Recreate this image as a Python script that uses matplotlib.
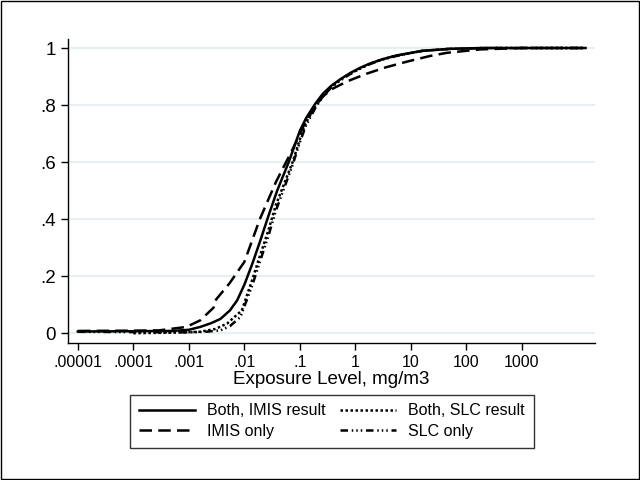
import matplotlib
matplotlib.use("Agg")
import matplotlib.pyplot as plt
import numpy as np
from matplotlib.patches import Rectangle

plt.rcParams['font.family'] = ['Liberation Sans', 'DejaVu Sans']

# exposure levels (mg/m3), cumulative fraction for each group
x_both_imis = [1e-5, 1e-4, 5e-4, 1e-3, 1.6e-3, 2.5e-3, 3.7e-3, 5.5e-3, 7.4e-3, 1e-2, 1.4e-2, 1.9e-2, 2.7e-2, 3.9e-2,
               6.3e-2, 0.1, 0.13, 0.19, 0.26, 0.37, 0.55, 0.8, 1.2, 1.8, 3, 5.5, 16, 50, 200, 1.4e4]
y_both_imis = [0.006, 0.007, 0.008, 0.012, 0.022, 0.035, 0.05, 0.08, 0.115, 0.17, 0.245, 0.32, 0.41, 0.5,
               0.6, 0.71, 0.755, 0.805, 0.84, 0.868, 0.892, 0.912, 0.93, 0.945, 0.96, 0.974, 0.99, 0.997, 1.0, 1.0]

x_imis_only = [1e-5, 1e-4, 2.9e-4, 9e-4, 1.6e-3, 2.8e-3, 3e-3, 5.4e-3, 1e-2, 1.9e-2, 3.7e-2, 7.4e-2, 0.1, 0.13,
               0.19, 0.26, 0.37, 0.55, 0.8, 1.6, 3.5, 8.4, 22, 44, 174, 1e3, 1.4e4]
y_imis_only = [0.008, 0.009, 0.01, 0.022, 0.045, 0.09, 0.115, 0.175, 0.25, 0.40, 0.53, 0.645, 0.70, 0.745,
               0.795, 0.83, 0.855, 0.872, 0.887, 0.91, 0.932, 0.952, 0.972, 0.983, 0.995, 1.0, 1.0]

x_both_slc = [1e-4, 5e-4, 1.6e-3, 3e-3, 4.9e-3, 9e-3, 1.4e-2, 1.9e-2, 2.7e-2, 3.7e-2, 7.4e-2, 0.1, 0.13, 0.19,
              0.26, 0.37, 0.55, 0.8, 1.2, 1.8, 3, 5.5, 16, 50, 200, 1.4e4]
y_both_slc = [0.0, 0.002, 0.005, 0.015, 0.034, 0.08, 0.19, 0.27, 0.36, 0.45, 0.6, 0.68, 0.74, 0.795,
              0.835, 0.865, 0.89, 0.91, 0.928, 0.944, 0.96, 0.973, 0.99, 0.997, 1.0, 1.0]

x_slc_only = [1e-5, 1e-4, 1e-3, 2e-3, 3.7e-3, 5.5e-3, 8.5e-3, 1.4e-2, 1.9e-2, 2.7e-2, 3.7e-2, 7.4e-2, 0.1, 0.13,
              0.19, 0.26, 0.37, 0.55, 0.8, 1.2, 1.8, 3, 5.5, 16, 50, 200, 1.4e4]
y_slc_only = [0.005, 0.004, 0.003, 0.005, 0.01, 0.025, 0.057, 0.17, 0.25, 0.34, 0.43, 0.59, 0.67, 0.73,
              0.79, 0.83, 0.862, 0.888, 0.908, 0.927, 0.943, 0.959, 0.972, 0.99, 0.997, 1.0, 1.0]

xtick_vals = [1e-5, 1e-4, 1e-3, 1e-2, 1e-1, 1, 10, 100, 1000]
xtick_labels = ['.00001', '.0001', '.001', '.01', '.1', '1', '10', '100', '1000']
ytick_vals = [0, 0.2, 0.4, 0.6, 0.8, 1]
ytick_labels = ['0', '.2', '.4', '.6', '.8', '1']

fig = plt.figure(figsize=(6.4, 4.8), dpi=100)
ax = fig.add_axes([0.106, 0.285, 0.824, 0.634])

lw = 1.8
ax.plot(x_both_imis, y_both_imis, color='black', lw=lw, ls='-', label='Both, IMIS result')
ax.plot(x_imis_only, y_imis_only, color='black', lw=lw, ls=(0, (5, 2.5)), label='IMIS only')
ax.plot(x_both_slc, y_both_slc, color='black', lw=lw, ls=(0, (1, 1)), label='Both, SLC result')
ax.plot(x_slc_only, y_slc_only, color='black', lw=lw, ls=(0, (3, 1.5, 0.6, 1.2, 0.6, 1.2, 0.6, 1.5)), label='SLC only')

ax.set_xscale('log')
ax.set_xlim(10 ** -5.18, 10 ** 4.32)
ax.set_ylim(-0.035, 1.032)
ax.set_xticks(xtick_vals)
ax.set_xticklabels(xtick_labels)
ax.minorticks_off()
ax.set_yticks(ytick_vals)
ax.set_yticklabels(ytick_labels)
ax.tick_params(axis='y', labelsize=13.5, length=5, width=1, direction='out')
ax.tick_params(axis='x', labelsize=11.5, length=5, width=1, direction='out')
ax.yaxis.grid(True, color='#e6eff1', lw=1.5)
ax.set_axisbelow(True)
for s in ['top', 'right']:
    ax.spines[s].set_visible(False)
for s in ['left', 'bottom']:
    ax.spines[s].set_linewidth(1)
ax.set_xlabel('Exposure Level, mg/m3', fontsize=13.5, labelpad=1)

leg = fig.legend(loc='lower left', bbox_to_anchor=(0.203, 0.067, 0.631, 0.106), mode='expand',
                 ncol=2, fontsize=11.5, frameon=True, fancybox=False, edgecolor='black',
                 handlelength=3.5, borderaxespad=0, columnspacing=1.5, labelspacing=0.35,
                 borderpad=0.55)
leg.get_frame().set_linewidth(1)

fig.patches.append(Rectangle((0.002, 0.002), 0.996, 0.995, transform=fig.transFigure,
                             fill=False, edgecolor='black', lw=1))

fig.savefig('out.png', dpi=100)
